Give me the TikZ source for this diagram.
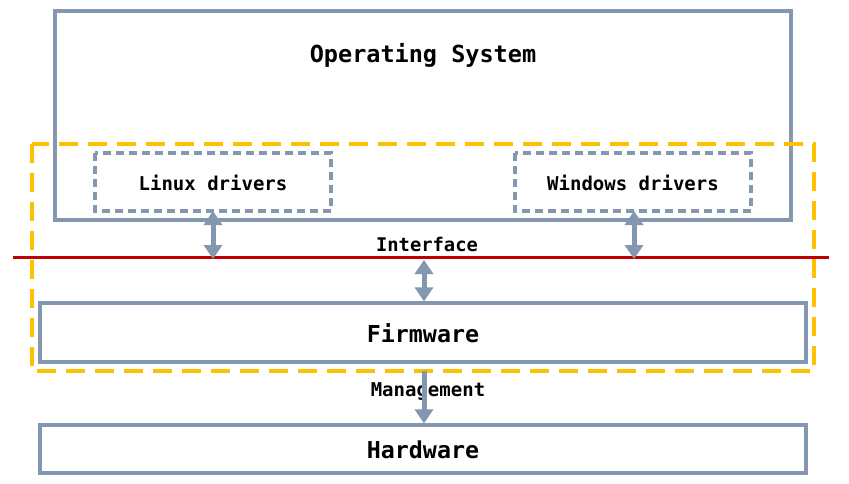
\documentclass[tikz,border=0pt]{standalone}
\usepackage{fontspec}
\setmonofont{DejaVu Sans Mono}
\usetikzlibrary{arrows.meta}
\definecolor{boxgray}{HTML}{8497B0}
\definecolor{ygold}{HTML}{FFC000}
\definecolor{ired}{HTML}{C00000}
\tikzset{
  solidbox/.style={draw=boxgray, line width=3.2pt, inner sep=0pt},
  drvbox/.style={draw=boxgray, line width=3.2pt, dash pattern=on 8pt off 5pt, inner sep=0pt},
  lbl/.style={font=\ttfamily\bfseries, text=black, inner sep=0pt},
  conn/.style={draw=boxgray, line width=5pt, -{Triangle[width=18pt,length=14pt]}},
  dconn/.style={draw=boxgray, line width=5pt, {Triangle[width=18pt,length=14pt]}-{Triangle[width=18pt,length=14pt]}},
}
\begin{document}
\begin{tikzpicture}[x=1pt,y=-1pt]
\useasboundingbox[fill=white] (0,0) rectangle (849,484);
% OS box
\draw[solidbox] (55,11) rectangle (791,220);
\node[lbl, font=\ttfamily\bfseries\fontsize{23.5}{26}\selectfont] (os) at (423,55) {Operating System};
% yellow dashed
\draw[draw=ygold, line width=3.2pt, dash pattern=on 19pt off 10pt] (32,144) rectangle (814,371);
% driver boxes
\draw[drvbox] (95,153) rectangle (331,211);
\coordinate (linB) at (213,211);
\node[lbl, font=\ttfamily\bfseries\fontsize{19}{22}\selectfont] (lin) at (213,183) {Linux drivers};
\draw[drvbox] (515,153) rectangle (751,211);
\coordinate (winB) at (634,211);
\node[lbl, font=\ttfamily\bfseries\fontsize{19}{22}\selectfont] (win) at (633,183) {Windows drivers};
% interface
\coordinate (redL) at (13,257);
\coordinate (redR) at (829,257);
\draw[ired, line width=3pt] (redL) -- (redR);
\node[lbl, font=\ttfamily\bfseries\fontsize{18.8}{22}\selectfont] (intf) at (427,244) {Interface};
\coordinate (linI) at (213,259);
\coordinate (winI) at (634,259);
\coordinate (midI) at (424,260);
% firmware
\node[solidbox, minimum width=766pt, minimum height=59pt] (fw) at (423,332.5) {};
\node[lbl, font=\ttfamily\bfseries\fontsize{23.3}{26}\selectfont] (fwt) at (423,333) {Firmware};
% hardware
\node[solidbox, minimum width=766pt, minimum height=48pt] (hw) at (423,449) {};
\node[lbl, font=\ttfamily\bfseries\fontsize{23.3}{26}\selectfont] (hwt) at (423,450) {Hardware};
% management
\node[lbl, font=\ttfamily\bfseries\fontsize{19}{22}\selectfont] (mgmt) at (428,392) {Management};
\coordinate (mgTop) at (424,371);
% arrows
\draw[dconn] (linB) -- (linI);
\draw[dconn] (winB) -- (winI);
\draw[dconn] (midI) -- (fw.north -| midI);
\draw[conn] (mgTop) -- (hw.north -| midI);
\end{tikzpicture}
\end{document}
